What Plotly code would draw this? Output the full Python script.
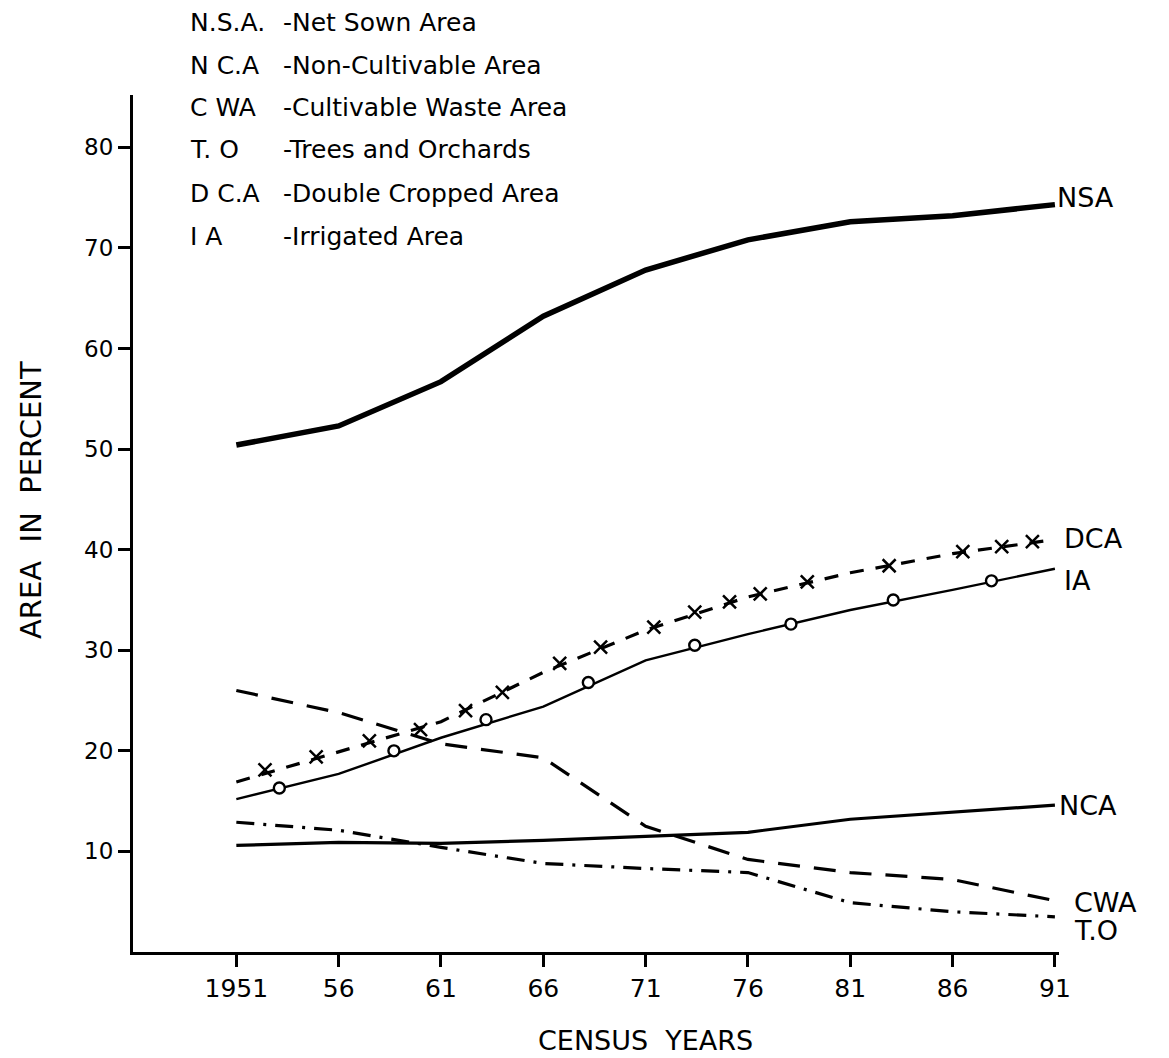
import plotly.graph_objects as go

# ---------------- data ----------------
years = [1951, 1956, 1961, 1966, 1971, 1976, 1981, 1986, 1991]
tick_labels = ["1951", "56", "61", "66", "71", "76", "81", "86", "91"]

nsa = [50.4, 52.3, 56.7, 63.2, 67.8, 70.8, 72.6, 73.2, 74.3]
dca = [16.9, 19.9, 22.9, 27.8, 32.0, 35.3, 37.7, 39.6, 41.0]
ia = [15.2, 17.7, 21.3, 24.4, 29.0, 31.6, 34.0, 36.0, 38.1]
nca = [10.6, 10.9, 10.8, 11.1, 11.5, 11.9, 13.2, 13.9, 14.6]
cwa = [26.0, 23.8, 20.7, 19.3, 12.5, 9.2, 7.9, 7.2, 5.1]
tor = [12.9, 12.1, 10.4, 8.8, 8.3, 7.9, 4.9, 4.0, 3.5]

# hand-drawn marker positions along the DCA and IA curves
dca_mark_years = [1952.4, 1954.9, 1957.5, 1960.0, 1962.2, 1964.0, 1966.8, 1968.8,
                  1971.4, 1973.4, 1975.1, 1976.6, 1978.9, 1982.9, 1986.5, 1988.4, 1989.9]
dca_mark_vals = [18.1, 19.4, 21.0, 22.1, 24.0, 25.8, 28.7, 30.3,
                 32.3, 33.8, 34.8, 35.6, 36.8, 38.4, 39.8, 40.3, 40.8]
ia_mark_years = [1953.1, 1958.7, 1963.2, 1968.2, 1973.4, 1978.1, 1983.1, 1987.9]
ia_mark_vals = [16.3, 20.0, 23.1, 26.8, 30.5, 32.6, 35.0, 36.9]

y_ticks = [10, 20, 30, 40, 50, 60, 70, 80]

legend_abbr = ["N.S.A.", "N C.A", "C WA", "T. O", "D C.A", "I A"]
legend_desc = ["-Net Sown Area", "-Non-Cultivable Area", "-Cultivable Waste Area",
               "-Trees and Orchards", "-Double Cropped Area", "-Irrigated Area"]

end_labels = ["NSA", "DCA", "IA", "NCA", "CWA", "T.O"]

# ---------------- layout helpers ----------------
W, H = 1169, 1058
L, R, T, B = 133, 110, 95, 106
PW, PH = W - L - R, H - T - B
FONT = "DejaVu Sans"


def px(x):
    return (x - L) / PW


def py(y):
    return (H - B - y) / PH


fig = go.Figure()

fig.add_trace(go.Scatter(x=years, y=nsa, mode="lines",
                         line=dict(color="black", width=5.5), name="NSA"))
fig.add_trace(go.Scatter(x=years, y=nca, mode="lines",
                         line=dict(color="black", width=3.2), name="NCA"))
fig.add_trace(go.Scatter(x=years, y=cwa, mode="lines",
                         line=dict(color="black", width=3.2, dash="22px,14px"), name="CWA"))
fig.add_trace(go.Scatter(x=years, y=tor, mode="lines",
                         line=dict(color="black", width=3.2, dash="18px,9px,3px,9px"), name="T.O"))
fig.add_trace(go.Scatter(x=years, y=dca, mode="lines",
                         line=dict(color="black", width=3.2, dash="14px,12px"), name="DCA"))
fig.add_trace(go.Scatter(x=dca_mark_years, y=dca_mark_vals, mode="markers",
                         marker=dict(symbol="x-thin-open", size=13, color="black",
                                     line=dict(color="black", width=2.5)),
                         name="DCA marks"))
fig.add_trace(go.Scatter(x=years, y=ia, mode="lines",
                         line=dict(color="black", width=2.4), name="IA"))
fig.add_trace(go.Scatter(x=ia_mark_years, y=ia_mark_vals, mode="markers",
                         marker=dict(symbol="circle", size=11, color="white",
                                     line=dict(color="black", width=2.4)),
                         name="IA marks"))

annotations = []

# legend block (top-left)
row_y = [22, 65, 108, 150, 193, 236]
for abbr, desc, yy in zip(legend_abbr, legend_desc, row_y):
    annotations.append(dict(xref="paper", yref="paper", x=px(188), y=py(yy),
                            xanchor="left", yanchor="middle", showarrow=False,
                            text=abbr, font=dict(family=FONT, size=25, color="black")))
    annotations.append(dict(xref="paper", yref="paper", x=px(281), y=py(yy),
                            xanchor="left", yanchor="middle", showarrow=False,
                            text=desc, font=dict(family=FONT, size=25, color="black")))

# end-of-line labels
series_last = [nsa[-1], dca[-1], ia[-1], nca[-1], cwa[-1], tor[-1]]
shifts = [(0, 7), (7, 1), (7, -12), (2, 0), (17, -2), (17, -14)]
for lab, val, (xs, ys) in zip(end_labels, series_last, shifts):
    annotations.append(dict(xref="x", yref="y", x=years[-1], y=val,
                            xanchor="left", yanchor="middle", showarrow=False,
                            xshift=xs, yshift=ys, text=lab,
                            font=dict(family=FONT, size=27, color="black")))

# axis titles
annotations.append(dict(xref="paper", yref="paper", x=px(31), y=py(500),
                        xanchor="center", yanchor="middle", showarrow=False,
                        textangle=-90, text="AREA  IN  PERCENT",
                        font=dict(family=FONT, size=29, color="black")))
annotations.append(dict(xref="paper", yref="paper", x=px(645), y=py(1040),
                        xanchor="center", yanchor="middle", showarrow=False,
                        text="CENSUS  YEARS",
                        font=dict(family=FONT, size=27, color="black")))

fig.update_layout(
    width=W, height=H,
    margin=dict(l=L, r=R, t=T, b=B, pad=0),
    paper_bgcolor="white", plot_bgcolor="white",
    showlegend=False,
    annotations=annotations,
    xaxis=dict(range=[1945.95, 1991.2], showgrid=False, zeroline=False,
               showline=True, linecolor="black", linewidth=3,
               ticks="outside", ticklen=12, tickwidth=3, tickcolor="black",
               tickvals=years, ticktext=tick_labels, ticklabelstandoff=0,
               tickfont=dict(family=FONT, size=25, color="black")),
    yaxis=dict(range=[0, 85.2], showgrid=False, zeroline=False,
               showline=True, linecolor="black", linewidth=3,
               ticks="outside", ticklen=12, tickwidth=2.5, tickcolor="black",
               tickvals=y_ticks, ticklabelstandoff=0,
               tickfont=dict(family=FONT, size=23, color="black")),
)

fig.write_html("out.html",
               config={"displayModeBar": False},
               post_script="document.body.style.margin='0';document.body.style.overflow='hidden';")
